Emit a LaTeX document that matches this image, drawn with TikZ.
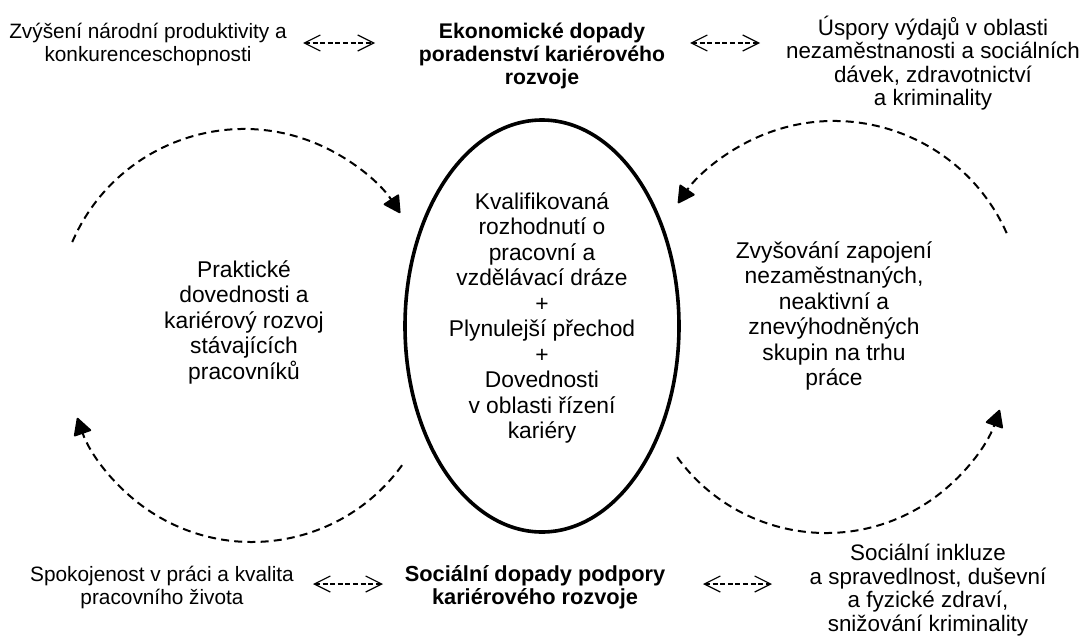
\documentclass[tikz,border=0pt]{standalone}
\usepackage{fontspec}
\setmainfont{Liberation Sans}
\usetikzlibrary{arrows.meta,shapes.geometric}
\begin{document}
\begin{tikzpicture}[x=0.5pt,y=-0.5pt,
  txt/.style={align=center,inner sep=0pt,font=\fontsize{10.4pt}{11.5pt}\selectfont},
  wide/.style={align=center,inner sep=0pt,font=\fontsize{11.2pt}{11.75pt}\selectfont},
  ttl/.style={align=center,inner sep=0pt,font=\fontsize{10.6pt}{11.6pt}\selectfont\bfseries},
  inner/.style={align=center,inner sep=0pt,font=\fontsize{11.4pt}{12.75pt}\selectfont},
  link/.style={line width=0.6pt,dash pattern=on 2.5pt off 1.3pt,
    {Straight Barb[length=8pt,width=8pt]}-{Straight Barb[length=8pt,width=8pt]}},
  cyc/.style={line width=1pt,dash pattern=on 4pt off 2.6pt,
    -{Triangle[length=9pt,width=9.5pt,round]}},
  core/.style={ellipse,draw,line width=1.8pt,minimum width=137pt,minimum height=206pt,inner sep=0pt}
]
\useasboundingbox (0,0) rectangle (1080,637);
\fill[white] (0,0) rectangle (1080,637);

% central ellipse and its text
\node[core] (core) at (542,326) {};
\node[inner] (coretext) at (542,318) {Kvalifikovaná\\rozhodnutí o\\pracovní a\\vzdělávací dráze\\+\\Plynulejší přechod\\+\\Dovednosti\\v oblasti řízení\\kariéry};

% economic row
\node[txt] (prod) at (148,45) {Zvýšení národní produktivity a\\konkurenceschopnosti};
\node[ttl] (eco) at (542,56) {Ekonomické dopady\\poradenství kariérového\\rozvoje};
\node[wide] (savings) at (933,63) {Úspory výdajů v oblasti\\nezaměstnanosti a sociálních\\dávek, zdravotnictví\\a kriminality};

% social row
\node[txt] (satisf) at (162,587) {Spokojenost v práci a kvalita\\pracovního života};
\node[ttl, font=\fontsize{10.9pt}{11.6pt}\selectfont\bfseries] (soc) at (535,587) {Sociální dopady podpory\\kariérového rozvoje};
\node[wide] (incl) at (928,590) {Sociální inkluze\\a spravedlnost, duševní\\a fyzické zdraví,\\snižování kriminality};

% side texts
\node[inner] (skills) at (244,322) {Praktické\\dovednosti a\\kariérový rozvoj\\stávajících\\pracovníků};
\node[inner] (engage) at (834,316) {Zvyšování zapojení\\nezaměstnaných,\\neaktivní a\\znevýhodněných\\skupin na trhu\\práce};

% ends of the two-way links
\coordinate (l1a) at (303,43);  \coordinate (l1b) at (375,43);
\coordinate (l2a) at (690,43);  \coordinate (l2b) at (760,43);
\coordinate (l3a) at (313,584); \coordinate (l3b) at (383,584);
\coordinate (l4a) at (703,584); \coordinate (l4b) at (772,584);
\draw[link] (l1a) -- (l1b);
\draw[link] (l2a) -- (l2b);
\draw[link] (l3a) -- (l3b);
\draw[link] (l4a) -- (l4b);

% centres of the feedback arcs
\coordinate (clt) at (244,316);
\coordinate (clb) at (252,357);
\coordinate (crt) at (834,310);
\coordinate (crb) at (826,349);
\draw[cyc] ([shift={(203.3:187)}]clt) arc[start angle=203.3,end angle=326.6,radius=187];
\draw[cyc] ([shift={(35.8:185)}]clb) arc[start angle=35.8,end angle=160.8,radius=185];
\draw[cyc] ([shift={(336:189)}]crt) arc[start angle=336,end angle=214.4,radius=189];
\draw[cyc] ([shift={(144:184)}]crb) arc[start angle=144,end angle=19.3,radius=184];
\end{tikzpicture}
\end{document}
